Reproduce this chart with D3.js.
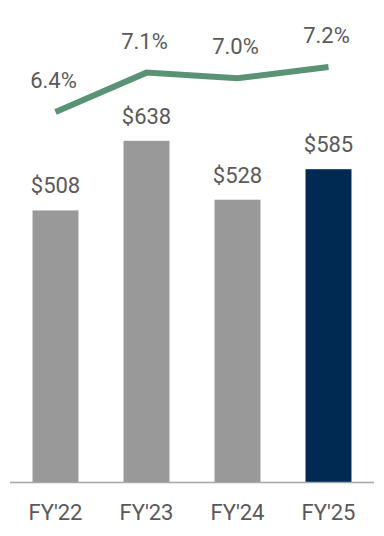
<!DOCTYPE html>
<html>
<head>
<meta charset="utf-8">
<script src="https://cdn.jsdelivr.net/npm/d3@7"></script>
<style>
  html, body { margin: 0; padding: 0; background: #fff; }
  text { font-family: Roboto, "DejaVu Sans", sans-serif; fill: #595959; }
</style>
</head>
<body>
<div id="chart"></div>
<script>
// Data
const years = ["FY'22", "FY'23", "FY'24", "FY'25"];
const revenue = [508, 638, 528, 585];
const margin = [6.4, 7.1, 7.0, 7.2];

const width = 384;
const height = 536;
const baseline = 482.5;

const svg = d3
  .select("#chart")
  .append("svg")
  .attr("width", width)
  .attr("height", height);

const x = d3
  .scaleBand()
  .domain(years)
  .range([10, 374])
  .paddingInner(0.495)
  .paddingOuter(0.2475);

const y = d3.scaleLinear().domain([0, 900]).range([baseline, baseline - 482]);

const yPct = d3.scaleLinear().domain([6.4, 7.2]).range([112, 67]);

const cx = (d) => x(d) + x.bandwidth() / 2;

// Bars
svg
  .append("g")
  .selectAll("rect")
  .data(years)
  .enter()
  .append("rect")
  .attr("x", (d) => x(d))
  .attr("y", (d, i) => y(revenue[i]))
  .attr("width", x.bandwidth())
  .attr("height", (d, i) => baseline - y(revenue[i]))
  .attr("fill", (d, i) => (i === years.length - 1 ? "#012a52" : "#999999"));

// Bar labels
svg
  .append("g")
  .selectAll("text")
  .data(years)
  .enter()
  .append("text")
  .attr("x", (d) => cx(d))
  .attr("y", (d, i) => y(revenue[i]) - 17)
  .attr("text-anchor", "middle")
  .style("font-size", "22px")
  .text((d, i) => `$${revenue[i]}`);

// Baseline
svg
  .append("line")
  .attr("x1", 10)
  .attr("x2", 374)
  .attr("y1", baseline)
  .attr("y2", baseline)
  .attr("stroke", "#a6a6a6")
  .attr("stroke-width", 1.5);

// X axis labels
svg
  .append("g")
  .selectAll("text")
  .data(years)
  .enter()
  .append("text")
  .attr("x", (d) => cx(d))
  .attr("y", 520)
  .attr("text-anchor", "middle")
  .style("font-size", "22px")
  .text((d) => d);

// Margin line
const line = d3
  .line()
  .x((d) => cx(d))
  .y((d, i) => yPct(margin[i]));

svg
  .append("path")
  .datum(years)
  .attr("d", line)
  .attr("fill", "none")
  .attr("stroke", "#5a9276")
  .attr("stroke-width", 6);

svg
  .append("g")
  .selectAll("text")
  .data(years)
  .enter()
  .append("text")
  .attr("x", (d) => cx(d) - 2)
  .attr("y", (d, i) => yPct(margin[i]) - 24)
  .attr("text-anchor", "middle")
  .style("font-size", "22px")
  .text((d, i) => `${margin[i].toFixed(1)}%`);
</script>
</body>
</html>
